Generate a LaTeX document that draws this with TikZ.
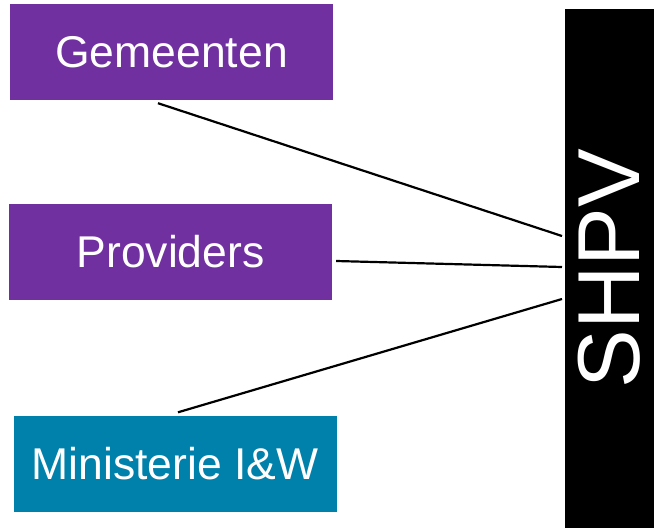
\documentclass[tikz,border=0pt]{standalone}
\usepackage{fontspec}
\setmainfont{Liberation Sans}
\definecolor{orgpurple}{RGB}{112,48,160}
\definecolor{orgteal}{RGB}{0,129,171}
\tikzset{
  orgbox/.style={fill=#1, text=white, minimum width=323pt, minimum height=96pt,
                 inner sep=0pt, font=\fontsize{44.5}{50}\selectfont},
  link/.style={line width=2.2pt}
}
\begin{document}
\begin{tikzpicture}[x=1pt,y=-1pt]
\useasboundingbox (0,0) rectangle (654,528);
\node[orgbox=orgpurple] (gem) at (171.5,52) {Gemeenten};
\node[orgbox=orgpurple] (prov) at (170.5,252) {Providers};
\node[orgbox=orgteal] (min) at (175,463.5) {Ministerie I\&W};
\node[fill=black, text=white, rotate=90, minimum width=519pt, minimum height=89pt,
      inner sep=0pt, font=\fontsize{88}{90}\selectfont] (shpv) at (609.5,268.5) {SHPV};
\coordinate (inA) at (562,236);      % ends of the links, just left of the bar
\coordinate (inB) at (562,267);
\coordinate (inC) at (562,299);
\draw[link] ([shift={(-13.5,3)}]gem.south) -- (inA);
\draw[link] ([shift={(4,9)}]prov.east) -- (inB);
\draw[link] ([shift={(3,-3)}]min.north) -- (inC);
\end{tikzpicture}
\end{document}
